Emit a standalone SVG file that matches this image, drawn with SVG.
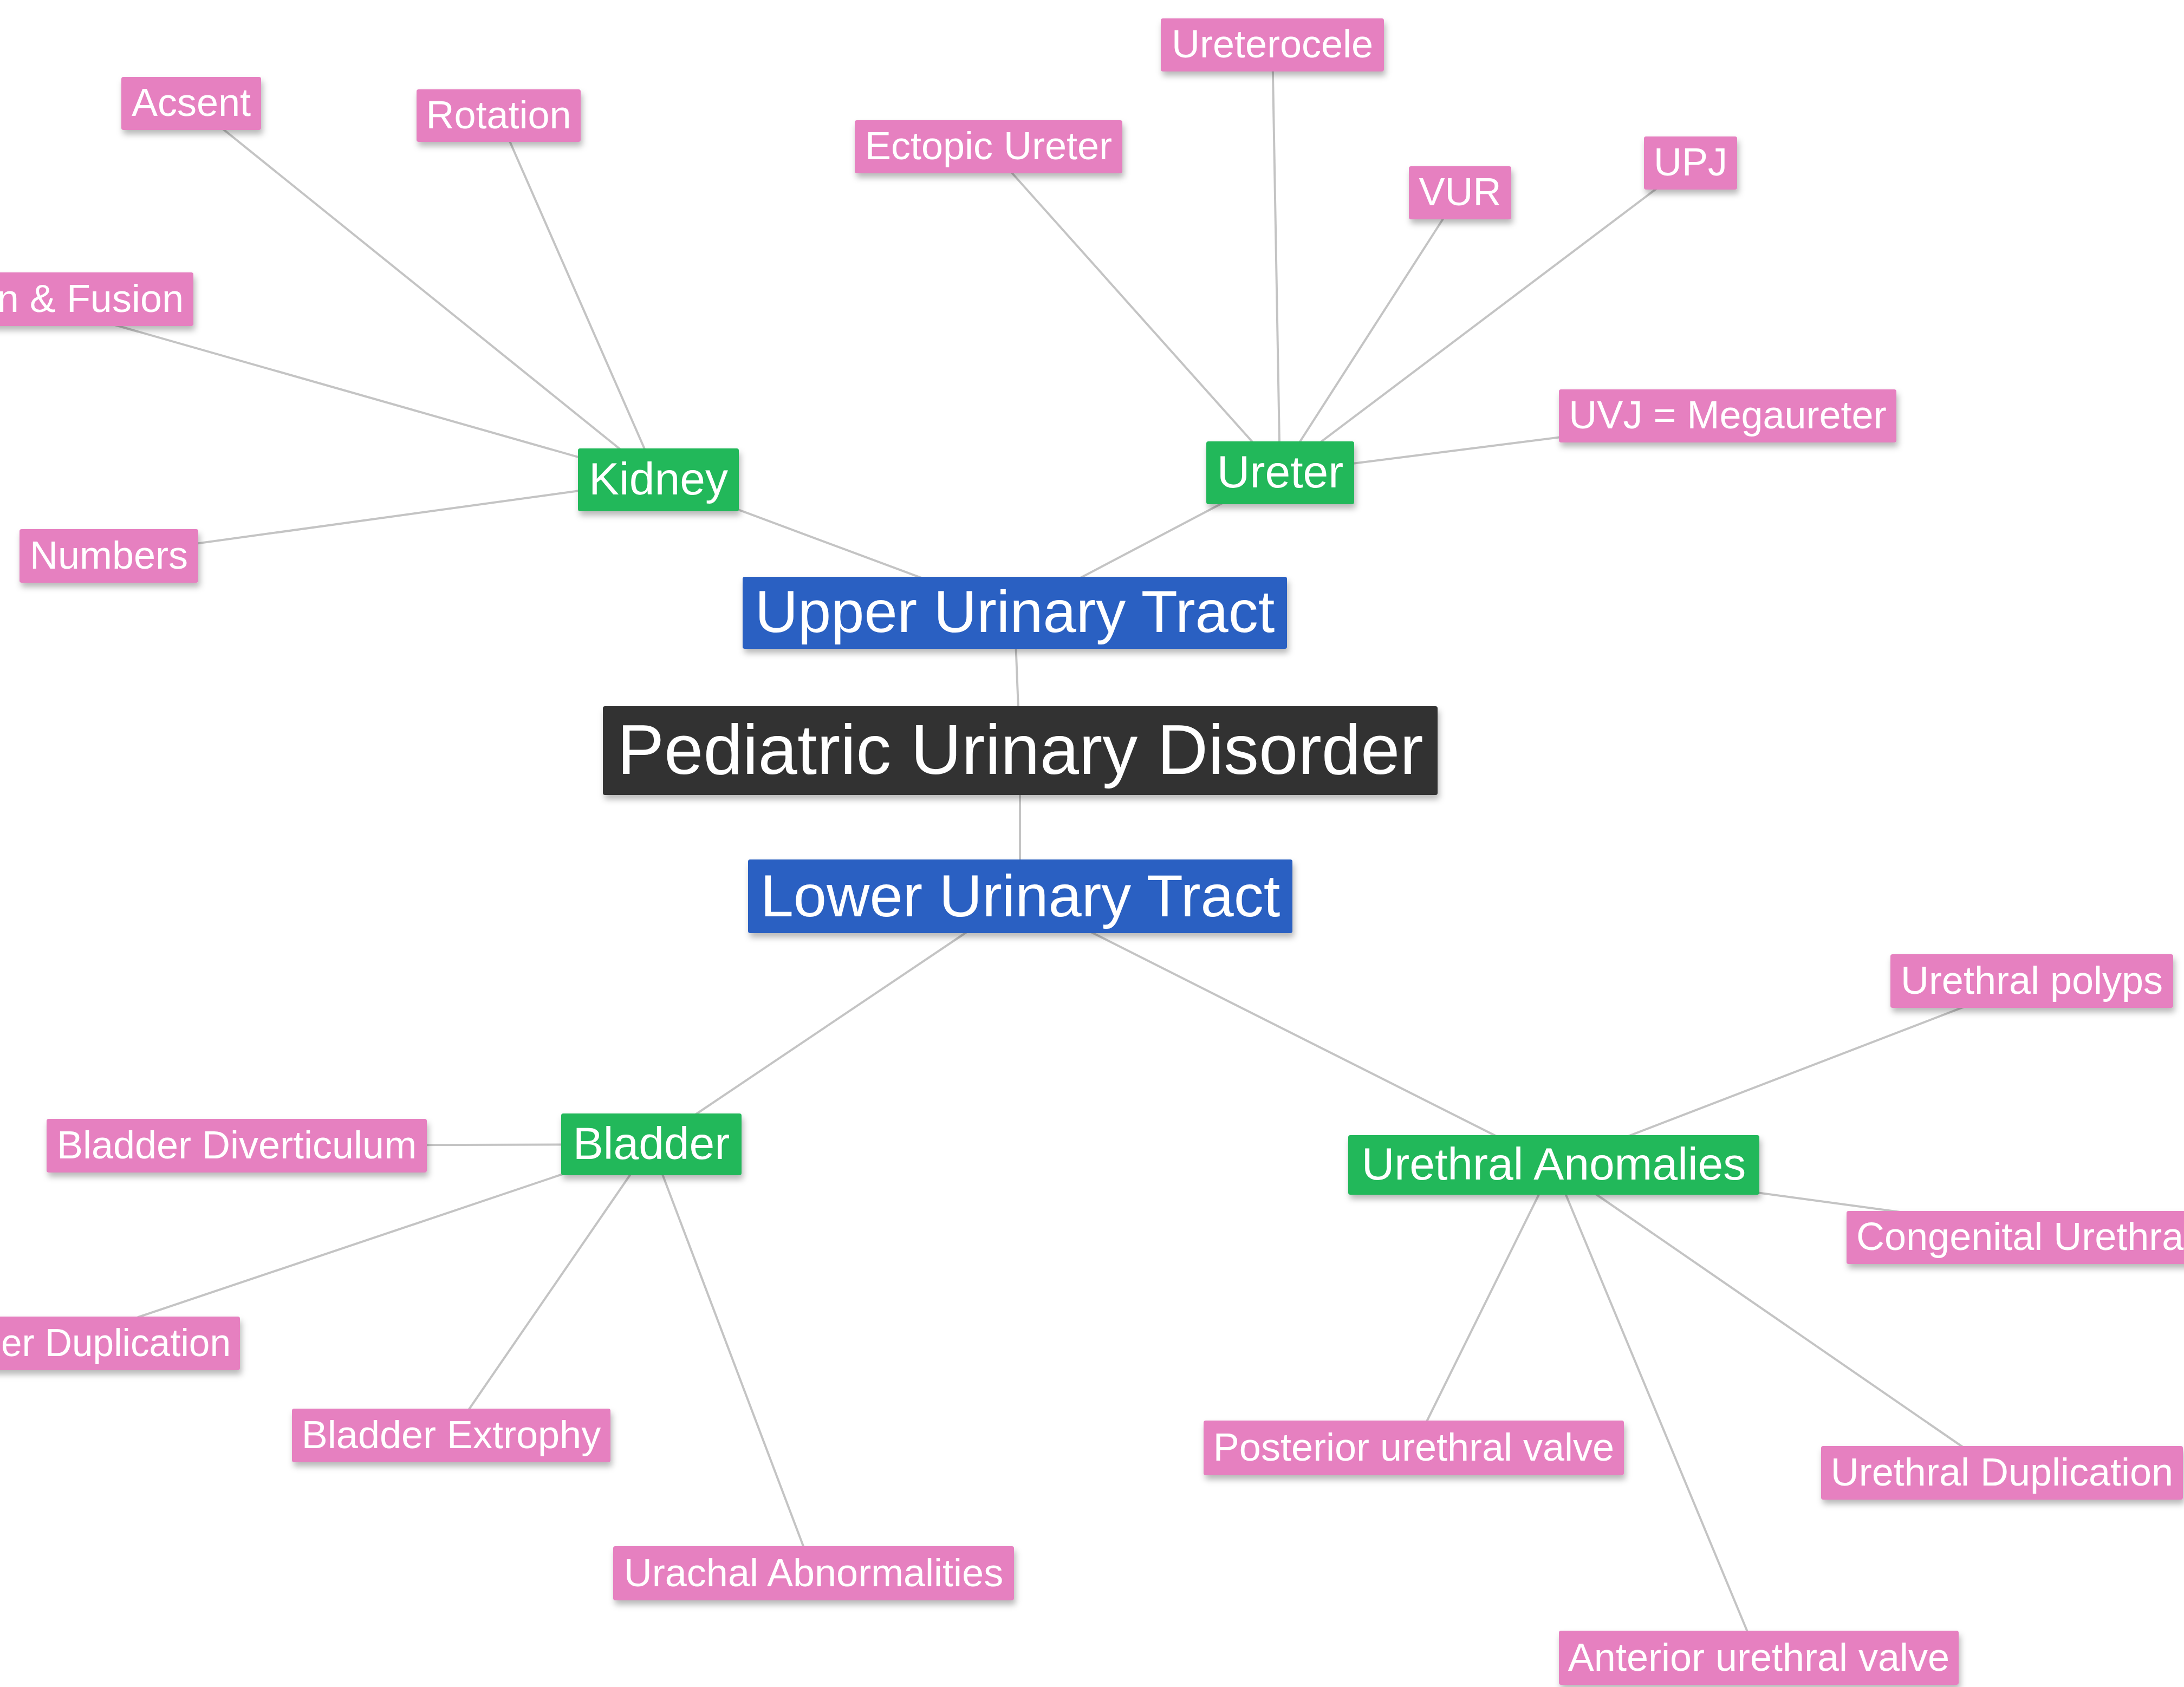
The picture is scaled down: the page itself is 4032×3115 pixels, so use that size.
<svg xmlns="http://www.w3.org/2000/svg" width="4032" height="3115" viewBox="0 0 4032 3115">
<defs>
<filter id="sh" x="-10%" y="-30%" width="120%" height="170%">
<feDropShadow dx="3" dy="8" stdDeviation="6" flood-color="#000" flood-opacity="0.28"/>
</filter>
<style>
text{font-family:"Liberation Sans",Arial,Helvetica,sans-serif;fill:#ffffff;}
.root rect{fill:#333333;}
.blue rect{fill:#2a61c2;}
.green rect{fill:#21b85a;}
.pink rect{fill:#e680c0;}
.root text{font-size:130px;}
.blue text{font-size:110px;}
.green text{font-size:84px;}
.pink text{font-size:72px;}
rect{filter:url(#sh);}
#connectors line{stroke:#c4c4c4;stroke-width:4;}
</style>
</defs>
<rect x="0" y="0" width="4032" height="3115" fill="#ffffff" style="filter:none"/>
<g id="connectors">
<line x1="1883" y1="1386" x2="1873" y2="1131"/>
<line x1="1883" y1="1386" x2="1883" y2="1655"/>
<line x1="1873" y1="1131" x2="1215" y2="886"/>
<line x1="1873" y1="1131" x2="2363" y2="873"/>
<line x1="1215" y1="886" x2="353" y2="191"/>
<line x1="1215" y1="886" x2="920" y2="213"/>
<line x1="1215" y1="886" x2="40" y2="551"/>
<line x1="1215" y1="886" x2="201" y2="1026"/>
<line x1="2363" y1="873" x2="1825" y2="271"/>
<line x1="2363" y1="873" x2="2349" y2="83"/>
<line x1="2363" y1="873" x2="2695" y2="356"/>
<line x1="2363" y1="873" x2="3121" y2="301"/>
<line x1="2363" y1="873" x2="3189" y2="768"/>
<line x1="1883" y1="1655" x2="1202" y2="2113"/>
<line x1="1883" y1="1655" x2="2868" y2="2151"/>
<line x1="1202" y1="2113" x2="437" y2="2115"/>
<line x1="1202" y1="2113" x2="113" y2="2480"/>
<line x1="1202" y1="2113" x2="833" y2="2650"/>
<line x1="1202" y1="2113" x2="1502" y2="2905"/>
<line x1="2868" y1="2151" x2="3751" y2="1811"/>
<line x1="2868" y1="2151" x2="3854" y2="2285"/>
<line x1="2868" y1="2151" x2="2610" y2="2673"/>
<line x1="2868" y1="2151" x2="3246" y2="3061"/>
<line x1="2868" y1="2151" x2="3692" y2="2719"/>
</g>
<g id="root" class="root"><rect x="1113" y="1304" width="1541" height="164" rx="4"/><text x="1883.5" y="1429" text-anchor="middle">Pediatric Urinary Disorder</text></g>
<g id="upper" class="blue"><rect x="1371" y="1065" width="1005" height="133" rx="4"/><text x="1873.5" y="1167" text-anchor="middle">Upper Urinary Tract</text></g>
<g id="lower" class="blue"><rect x="1381" y="1587" width="1005" height="136" rx="4"/><text x="1883.5" y="1692" text-anchor="middle">Lower Urinary Tract</text></g>
<g id="kidney" class="green"><rect x="1067" y="828" width="297" height="116" rx="4"/><text x="1215.5" y="913" text-anchor="middle">Kidney</text></g>
<g id="ureter" class="green"><rect x="2227" y="815" width="273" height="116" rx="4"/><text x="2363.5" y="900" text-anchor="middle">Ureter</text></g>
<g id="bladder" class="green"><rect x="1036" y="2056" width="333" height="114" rx="4"/><text x="1202.5" y="2140" text-anchor="middle">Bladder</text></g>
<g id="urethral-anomalies" class="green"><rect x="2489" y="2096" width="759" height="110" rx="4"/><text x="2868.5" y="2178" text-anchor="middle">Urethral Anomalies</text></g>
<g id="acsent" class="pink"><rect x="224" y="142" width="258" height="98" rx="4"/><text x="353" y="214" text-anchor="middle">Acsent</text></g>
<g id="rotation" class="pink"><rect x="769" y="165" width="303" height="97" rx="4"/><text x="920.5" y="237" text-anchor="middle">Rotation</text></g>
<g id="fusion" class="pink"><rect x="-300" y="503" width="657" height="99" rx="4"/><text x="339" y="576" text-anchor="end">n &amp; Fusion</text></g>
<g id="numbers" class="pink"><rect x="36" y="977" width="330" height="99" rx="4"/><text x="201" y="1050" text-anchor="middle">Numbers</text></g>
<g id="ectopic-ureter" class="pink"><rect x="1578" y="222" width="494" height="98" rx="4"/><text x="1825" y="294" text-anchor="middle">Ectopic Ureter</text></g>
<g id="ureterocele" class="pink"><rect x="2143" y="34" width="412" height="98" rx="4"/><text x="2349" y="106" text-anchor="middle">Ureterocele</text></g>
<g id="vur" class="pink"><rect x="2601" y="307" width="189" height="98" rx="4"/><text x="2695.5" y="379" text-anchor="middle">VUR</text></g>
<g id="upj" class="pink"><rect x="3035" y="252" width="172" height="98" rx="4"/><text x="3121" y="324" text-anchor="middle">UPJ</text></g>
<g id="uvj" class="pink"><rect x="2878" y="719" width="623" height="98" rx="4"/><text x="3189.5" y="791" text-anchor="middle">UVJ = Megaureter</text></g>
<g id="urethral-polyps" class="pink"><rect x="3490" y="1762" width="522" height="99" rx="4"/><text x="3751" y="1835" text-anchor="middle">Urethral polyps</text></g>
<g id="congenital-urethra" class="pink"><rect x="3409" y="2236" width="900" height="98" rx="4"/><text x="3427" y="2308">Congenital Urethra</text></g>
<g id="urethral-duplication" class="pink"><rect x="3362" y="2670" width="668" height="99" rx="4"/><text x="3696" y="2743" text-anchor="middle">Urethral Duplication</text></g>
<g id="posterior-urethral-valve" class="pink"><rect x="2222" y="2623" width="776" height="101" rx="4"/><text x="2610" y="2697" text-anchor="middle">Posterior urethral valve</text></g>
<g id="anterior-urethral-valve" class="pink"><rect x="2878" y="3011" width="738" height="100" rx="4"/><text x="3247" y="3085" text-anchor="middle">Anterior urethral valve</text></g>
<g id="bladder-diverticulum" class="pink"><rect x="86" y="2066" width="702" height="99" rx="4"/><text x="437" y="2139" text-anchor="middle">Bladder Diverticulum</text></g>
<g id="bladder-duplication" class="pink"><rect x="-217" y="2431" width="660" height="99" rx="4"/><text x="2" y="2504" textLength="424" lengthAdjust="spacingAndGlyphs">er Duplication</text></g>
<g id="bladder-extrophy" class="pink"><rect x="539" y="2601" width="588" height="99" rx="4"/><text x="833" y="2674" text-anchor="middle">Bladder Extrophy</text></g>
<g id="urachal-abnormalities" class="pink"><rect x="1132" y="2855" width="740" height="100" rx="4"/><text x="1502" y="2929" text-anchor="middle">Urachal Abnormalities</text></g>
</svg>
